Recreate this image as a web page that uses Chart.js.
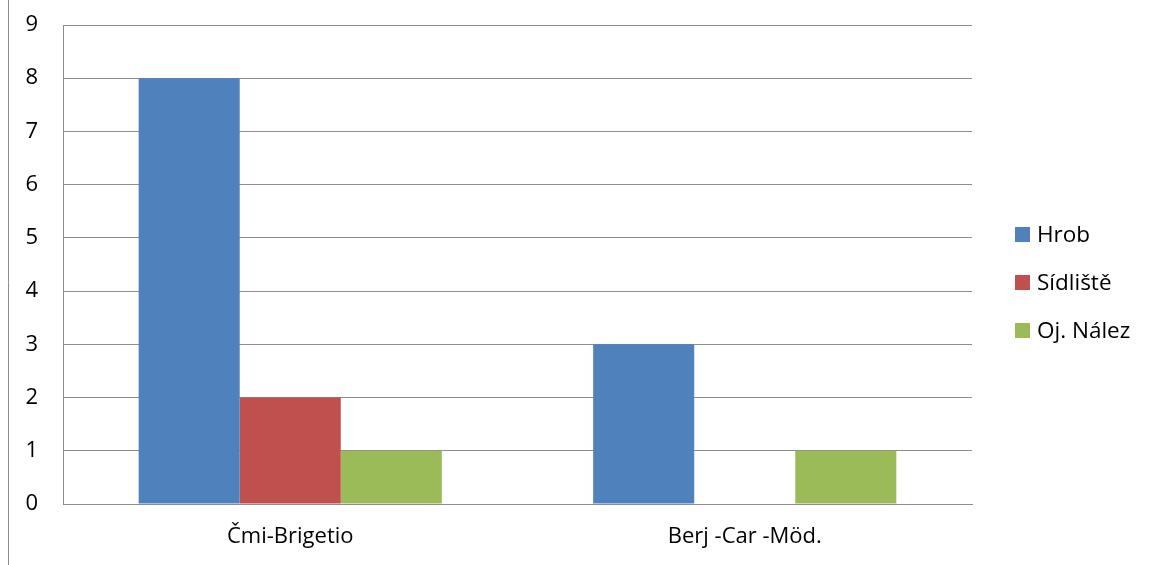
<!DOCTYPE html>
<html><head><meta charset="utf-8">
<script src="https://cdn.jsdelivr.net/npm/chart.js@4"></script>
<style>html,body{margin:0;padding:0;background:#fff;}#wrap{width:1152px;height:565px;}</style>
</head><body><div id="wrap"><canvas id="c" width="1152" height="565"></canvas></div>
<script>
const categories = ["Čmi-Brigetio", "Berj -Car -Möd."];
const seriesNames = ["Hrob", "Sídliště", "Oj. Nález"];
const hrob = [8, 3];
const sidliste = [2, 0];
const ojNalez = [1, 1];
const yTicks = [0, 1, 2, 3, 4, 5, 6, 7, 8, 9];
const colors = ["#4F81BD", "#C0504D", "#9BBB59"];
const FONT = "'Open Sans', 'Liberation Sans', Arial, sans-serif";

const legendPlugin = {
  id: 'customLegend',
  afterDraw(chart) {
    const ctx = chart.ctx;
    ctx.save();
    ctx.strokeStyle = '#8c8c8c';
    ctx.lineWidth = 1;
    ctx.beginPath(); ctx.moveTo(8.5, 0); ctx.lineTo(8.5, 565); ctx.stroke();
    const x0 = 1015, ys = [235, 283, 331];
    ctx.font = "22.5px " + FONT;
    ctx.textBaseline = 'middle';
    chart.data.datasets.forEach((ds, i) => {
      ctx.fillStyle = ds.backgroundColor;
      ctx.fillRect(x0, ys[i] - 8, 15, 15);
      ctx.fillStyle = '#000';
      ctx.fillText(ds.label, x0 + 22, ys[i] + 1);
    });
    ctx.restore();
  }
};

new Chart(document.getElementById('c'), {
  type: 'bar',
  data: {
    labels: categories,
    datasets: [
      { label: seriesNames[0], data: hrob, backgroundColor: colors[0] },
      { label: seriesNames[1], data: sidliste, backgroundColor: colors[1] },
      { label: seriesNames[2], data: ojNalez, backgroundColor: colors[2] }
    ]
  },
  options: {
    responsive: false,
    animation: false,
    layout: { padding: { left: 0, right: 180, top: 25, bottom: 0 } },
    datasets: { bar: { categoryPercentage: 0.667, barPercentage: 1.0 } },
    plugins: { legend: { display: false }, tooltip: { enabled: false } },
    scales: {
      x: {
        grid: { display: false, drawTicks: false },
        border: { color: '#8c8c8c', width: 1 },
        ticks: { color: '#000', font: { family: FONT, size: 22 }, padding: 20 },
        afterFit(s) { s.height = 61; s.paddingLeft = 0; s.paddingRight = 0; }
      },
      y: {
        min: 0, max: 9,
        afterBuildTicks(s) { s.ticks = yTicks.map(v => ({ value: v })); },
        grid: { color: '#8c8c8c', drawTicks: false },
        border: { color: '#8c8c8c', width: 1 },
        ticks: { color: '#000', font: { family: FONT, size: 22 }, padding: 25 },
        afterFit(s) { s.width = 63; s.paddingTop = 0; s.paddingBottom = 0; }
      }
    }
  },
  plugins: [legendPlugin]
});
</script></body></html>
